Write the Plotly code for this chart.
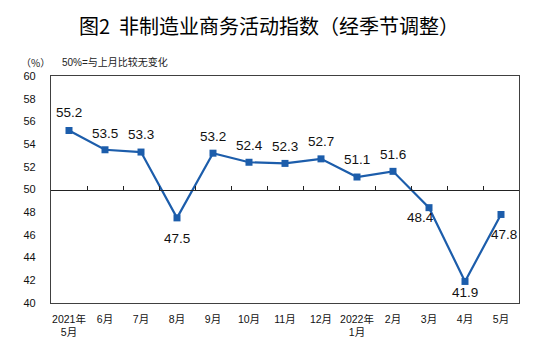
import plotly.graph_objects as go

months = ["2021年<br>5月", "6月", "7月", "8月", "9月", "10月", "11月", "12月",
          "2022年<br>1月", "2月", "3月", "4月", "5月"]
pmi = [55.2, 53.5, 53.3, 47.5, 53.2, 52.4, 52.3, 52.7, 51.1, 51.6, 48.4, 41.9, 47.8]
# pixel offsets of each value label relative to its point
label_dx = [0, 0, 0, 0, 0, 0, 0, 0, 0, 0, -9, 0, 3]
label_dy = [18, 16, 18, -21, 17, 17, 17, 17, 18, 17, -10, -11, -20]
y_ticks = [40, 42, 44, 46, 48, 50, 52, 54, 56, 58, 60]

LINE_BLUE = "#1c5dab"
AXIS_GREY = "#404040"
FONT = "Liberation Sans, Arial, Noto Sans CJK SC, sans-serif"

idx = list(range(len(months)))

fig = go.Figure()
fig.add_trace(go.Scatter(
    x=idx, y=pmi, mode="lines+markers",
    line=dict(color=LINE_BLUE, width=2.2),
    marker=dict(symbol="square", size=7, color=LINE_BLUE),
    hoverinfo="skip", showlegend=False,
))
# invisible trace that carries the reference axis at 50
fig.add_trace(go.Scatter(x=[idx[0]], y=[50], xaxis="x2", yaxis="y",
                         mode="markers", marker=dict(opacity=0),
                         hoverinfo="skip", showlegend=False))

for i, v in enumerate(pmi):
    fig.add_annotation(x=i, y=v, text=f"{v:.1f}", showarrow=False,
                       xshift=label_dx[i], yshift=label_dy[i],
                       font=dict(family=FONT, size=13.5, color="#111111"))

fig.add_annotation(text="图2  非制造业商务活动指数（经季节调整）", xref="paper", yref="paper",
                   x=0.465, y=1, yshift=51, yanchor="middle", showarrow=False,
                   xanchor="center",
                   font=dict(family="Noto Sans CJK SC", size=20, color="#000000"))
fig.add_annotation(text="（%）", xref="paper", yref="paper", x=-0.034, y=1, yshift=14,
                   yanchor="middle", showarrow=False, xanchor="center",
                   font=dict(family="Noto Sans CJK SC", size=10, color="#222222"))
fig.add_annotation(text="50%=与上月比较无变化", xref="paper", yref="paper", x=0.02, y=1,
                   yshift=14, yanchor="middle", showarrow=False, xanchor="left",
                   font=dict(family=FONT, size=10, color="#222222"))

fig.update_layout(
    width=550, height=349,
    margin=dict(l=51, r=31, t=76, b=46),
    paper_bgcolor="white", plot_bgcolor="white",
    xaxis=dict(range=[-0.5, len(months) - 0.5], tickvals=idx, ticktext=months,
               showgrid=False, zeroline=False, showline=True, mirror=True,
               linecolor=AXIS_GREY, linewidth=1.3, ticks="", ticklabelstandoff=6,
               tickfont=dict(family=FONT, size=10.5, color="#111111")),
    xaxis2=dict(range=[-0.5, len(months) - 0.5], overlaying="x", anchor="free",
                position=0.5, side="bottom", showline=True, linecolor="#222222",
                linewidth=1, ticks="inside", ticklen=4, tickcolor="#222222",
                tickvals=[i + 0.5 for i in idx[:-1]], showticklabels=False,
                showgrid=False, zeroline=False),
    yaxis=dict(range=[40, 60], tickvals=y_ticks, showgrid=False, zeroline=False,
               showline=True, mirror=True, linecolor=AXIS_GREY, linewidth=1.3,
               ticks="", ticklabelstandoff=12,
               tickfont=dict(family=FONT, size=11, color="#111111")),
)

fig.write_html("out.html")
